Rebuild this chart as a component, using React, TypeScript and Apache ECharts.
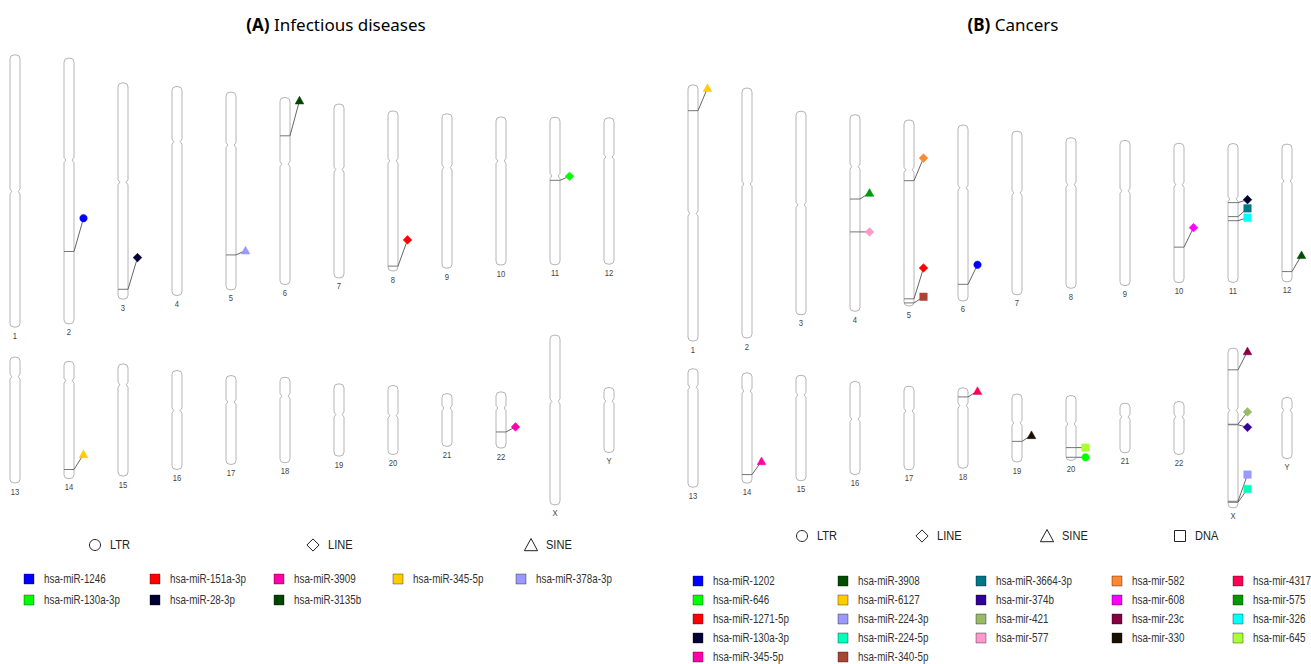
import React, { useEffect, useRef } from "react";
import * as echarts from "echarts";

// ---------------- data ----------------
const chromNames = ["1", "2", "3", "4", "5", "6", "7", "8", "9", "10", "11", "12", "13", "14", "15", "16", "17", "18", "19", "20", "21", "22", "X", "Y"];
// chromosome length (Mb) as drawn in the figure
const chromLengths = [249.25, 243.2, 198.0, 191.2, 180.9, 171.1, 159.1, 146.4, 141.2, 135.5, 135.0, 133.9, 115.2, 107.3, 102.5, 90.4, 81.2, 78.1, 66.0, 63.0, 48.1, 51.3, 155.3, 59.4];
// centromere position (Mb)
const centromeres = [125.0, 93.3, 91.0, 50.4, 48.4, 61.0, 59.9, 45.6, 49.0, 40.2, 53.7, 35.8, 17.9, 17.6, 19.0, 36.6, 24.0, 17.2, 28.0, 27.5, 13.2, 14.7, 60.6, 12.5];

// Panel A: infectious diseases
const aMarkChrom = ["2", "3", "5", "6", "8", "11", "14", "22"];
const aMarkPos = [177, 189, 149, 35, 142, 57.7, 99, 36.6];
const aMarkLabel = [146.5, 160, 145, 2.7, 118, 54, 85, 32];
const aMarkType = ["LTR", "LINE", "SINE", "SINE", "LINE", "LINE", "SINE", "LINE"];
const aMarkMir = ["hsa-miR-1246", "hsa-miR-28-3p", "hsa-miR-378a-3p", "hsa-miR-3135b", "hsa-miR-151a-3p", "hsa-miR-130a-3p", "hsa-miR-345-5p", "hsa-miR-3909"];
const aLegendMirs = ["hsa-miR-1246", "hsa-miR-130a-3p", "hsa-miR-151a-3p", "hsa-miR-28-3p", "hsa-miR-3909", "hsa-miR-3135b", "hsa-miR-345-5p", "hsa-miR-378a-3p"];
const aLegendColors = ["#0000ff", "#00ff00", "#ff0000", "#000033", "#ff00aa", "#004400", "#ffcc00", "#9999ff"];
const aLegendColumnCounts = [2, 2, 2, 1, 1];
const aShapeLegend = ["LTR", "LINE", "SINE"];

// Panel B: cancers
const bMarkChrom = ["1", "4", "4", "5", "5", "5", "6", "10", "11", "11", "11", "12", "14", "18", "19", "20", "20", "X", "X", "X", "X", "X"];
const bMarkPos = [25, 82, 114, 59, 174, 178, 155, 101, 57.4, 71, 75, 124, 99, 8.8, 46, 50.6, 60, 21, 74, 74.5, 149, 150];
const bMarkLabel = [3, 76, 114, 37, 144, 172, 136, 82, 54.5, 63, 72, 108, 86, 3, 40, 50.6, 60, 3, 62, 77, 123, 137];
const bMarkType = ["SINE", "SINE", "LINE", "LINE", "LINE", "DNA", "LTR", "LINE", "LINE", "DNA", "DNA", "SINE", "SINE", "SINE", "SINE", "DNA", "LTR", "SINE", "LINE", "LINE", "DNA", "DNA"];
const bMarkMir = ["hsa-miR-6127", "hsa-mir-575", "hsa-mir-577", "hsa-mir-582", "hsa-miR-1271-5p", "hsa-miR-340-5p", "hsa-miR-1202", "hsa-mir-608", "hsa-miR-130a-3p", "hsa-miR-3664-3p", "hsa-mir-326", "hsa-miR-3908", "hsa-miR-345-5p", "hsa-mir-4317", "hsa-mir-330", "hsa-mir-645", "hsa-miR-646", "hsa-mir-23c", "hsa-mir-421", "hsa-mir-374b", "hsa-miR-224-3p", "hsa-miR-224-5p"];
const bLegendMirs = [
  "hsa-miR-1202", "hsa-miR-646", "hsa-miR-1271-5p", "hsa-miR-130a-3p", "hsa-miR-345-5p",
  "hsa-miR-3908", "hsa-miR-6127", "hsa-miR-224-3p", "hsa-miR-224-5p", "hsa-miR-340-5p",
  "hsa-miR-3664-3p", "hsa-mir-374b", "hsa-mir-421", "hsa-mir-577",
  "hsa-mir-582", "hsa-mir-608", "hsa-mir-23c", "hsa-mir-330",
  "hsa-mir-4317", "hsa-mir-575", "hsa-mir-326", "hsa-mir-645",
];
const bLegendColors = [
  "#0000ff", "#00ff00", "#ff0000", "#000033", "#ff00aa",
  "#004d00", "#ffcc00", "#9999ff", "#00ffbb", "#aa4433",
  "#007788", "#330099", "#99bb66", "#ff99cc",
  "#ff8833", "#ff00ff", "#880044", "#1a1000",
  "#ff0055", "#009900", "#00ffff", "#aaff33",
];
const bLegendColumnCounts = [5, 5, 4, 4, 4];
const bShapeLegend = ["LTR", "LINE", "SINE", "DNA"];

const titleA = "Infectious diseases";
const titleB = "Cancers";

// ---------------- helpers ----------------
const SANS = "'Liberation Sans', Arial, sans-serif";
const NARROW_X = 0.82; // horizontal squeeze imitating a narrow face
const HALF_RANGE = 130; // Mb shown above/below centre line in each row

function symbolEl(type: string, x: number, y: number, s: number, style: any) {
  const h = s / 2;
  if (type === "LTR") return { type: "circle", shape: { cx: x, cy: y, r: h }, style };
  if (type === "LINE")
    return { type: "polygon", shape: { points: [[x, y - h - 0.6], [x + h + 0.6, y], [x, y + h + 0.6], [x - h - 0.6, y]] }, style };
  if (type === "SINE")
    return { type: "polygon", shape: { points: [[x, y - h - 0.5], [x + h + 0.6, y + h - 0.3], [x - h - 0.6, y + h - 0.3]] }, style };
  return { type: "rect", shape: { x: x - h, y: y - h, width: s, height: s }, style };
}

function chromPath(cx: number, top: number, bot: number, cen: number) {
  const w = 5, r = 4, nd = 1.8, nh = 2.6;
  const x0 = cx - w, x1 = cx + w;
  return [
    `M${x0} ${top + r}`,
    `Q${x0} ${top} ${x0 + r} ${top}`,
    `L${x1 - r} ${top}`,
    `Q${x1} ${top} ${x1} ${top + r}`,
    `L${x1} ${cen - nh}`,
    `L${x1 - nd} ${cen}`,
    `L${x1} ${cen + nh}`,
    `L${x1} ${bot - r}`,
    `Q${x1} ${bot} ${x1 - r} ${bot}`,
    `L${x0 + r} ${bot}`,
    `Q${x0} ${bot} ${x0} ${bot - r}`,
    `L${x0} ${cen + nh}`,
    `L${x0 + nd} ${cen}`,
    `L${x0} ${cen - nh}`,
    "Z",
  ].join(" ");
}

const PANELS = [
  {
    left: 15, scale: 1.092, centers: [191, 420],
    chrom: aMarkChrom, pos: aMarkPos, lab: aMarkLabel, type: aMarkType, mir: aMarkMir,
    legMirs: aLegendMirs, legColors: aLegendColors, legCounts: aLegendColumnCounts,
    legCols: [29, 155, 279, 398, 521], legRows: [579, 600], legTextDx: 15,
    shapes: aShapeLegend, shapeX: [95, 313, 531], shapeY: 545,
    title: titleA, tag: "(A)", titleX: 336,
  },
  {
    left: 693, scale: 1.027, centers: [213, 428],
    chrom: bMarkChrom, pos: bMarkPos, lab: bMarkLabel, type: bMarkType, mir: bMarkMir,
    legMirs: bLegendMirs, legColors: bLegendColors, legCounts: bLegendColumnCounts,
    legCols: [698, 843, 981, 1117, 1238], legRows: [581, 600, 619, 638, 657], legTextDx: 15,
    shapes: bShapeLegend, shapeX: [802, 922, 1047, 1180], shapeY: 536,
    title: titleB, tag: "(B)", titleX: 1013,
  },
];

function narrowText(x: number, y: number, text: string, fontSize: number, fill: string, align = "left") {
  return {
    type: "text", x, y, scaleX: NARROW_X,
    style: { text, x: 0, y: 0, align, verticalAlign: "middle", fontSize, fontFamily: SANS, fill },
  };
}

function buildOption() {
  const grids: any[] = [];
  const xAxes: any[] = [];
  const yAxes: any[] = [];
  const series: any[] = [];
  const graphics: any[] = [];

  PANELS.forEach((p, pi) => {
    const colorOf = (m: string) => p.legColors[p.legMirs.indexOf(m)];
    p.centers.forEach((c, r) => {
      const g = pi * 2 + r;
      grids.push({
        left: p.left, width: 594,
        top: c - HALF_RANGE * p.scale, height: 2 * HALF_RANGE * p.scale,
        outerBoundsMode: "none", containLabel: false,
      });
      xAxes.push({ type: "value", gridIndex: g, min: 0, max: 11, show: false });
      yAxes.push({ type: "value", gridIndex: g, min: -HALF_RANGE, max: HALF_RANGE, inverse: true, show: false });

      const idxs = chromNames.map((_, i) => i).filter((i) => Math.floor(i / 12) === r);
      series.push({
        type: "custom", xAxisIndex: g, yAxisIndex: g, z: 2, silent: true,
        data: idxs.map((i) => [i - r * 12, chromLengths[i], centromeres[i]]),
        renderItem: (params: any, api: any) => {
          const xi = api.value(0), len = api.value(1), cen = api.value(2);
          const [cx, top] = api.coord([xi, -len / 2]);
          const bot = api.coord([xi, len / 2])[1];
          const yc = api.coord([xi, -len / 2 + cen])[1];
          return {
            type: "group",
            children: [
              { type: "path", shape: { pathData: chromPath(cx, top, bot, yc) }, style: { fill: "#ffffff", stroke: "#b4b4b4", lineWidth: 1 } },
              {
                type: "text", x: cx, y: bot + 9, scaleX: 0.9,
                style: {
                  text: chromNames[idxs[params.dataIndex]], x: 0, y: 0, align: "center", verticalAlign: "middle",
                  fontSize: 8.5, fontFamily: SANS, fill: "#444",
                },
              },
            ],
          };
        },
      });

      const mIdx = p.chrom.map((_, k) => k).filter((k) => Math.floor(chromNames.indexOf(p.chrom[k]) / 12) === r);
      series.push({
        type: "custom", xAxisIndex: g, yAxisIndex: g, z: 3, silent: true,
        data: mIdx.map((k) => {
          const ci = chromNames.indexOf(p.chrom[k]);
          return [ci - r * 12, chromLengths[ci], p.pos[k], p.lab[k]];
        }),
        renderItem: (params: any, api: any) => {
          const k = mIdx[params.dataIndex];
          const xi = api.value(0), len = api.value(1), pos = api.value(2), lab = api.value(3);
          const [cx, yp] = api.coord([xi, -len / 2 + pos]);
          const yl = api.coord([xi, -len / 2 + lab])[1];
          const mx = cx + 14.5;
          const col = colorOf(p.mir[k]);
          return {
            type: "group",
            children: [
              { type: "line", shape: { x1: cx - 5, y1: yp, x2: cx + 5, y2: yp }, style: { stroke: "#777", lineWidth: 1 } },
              { type: "line", shape: { x1: cx + 5, y1: yp, x2: mx, y2: yl }, style: { stroke: "#555", lineWidth: 0.9 } },
              symbolEl(p.type[k], mx, yl, 7.5, { fill: col, stroke: col, lineWidth: 0.5 }),
            ],
          };
        },
      });
    });

    // title
    graphics.push({
      type: "text", x: p.titleX, y: 24,
      style: {
        text: `{b|${p.tag}} ${p.title}`, align: "center", verticalAlign: "middle",
        fontSize: 17, fontFamily: "'Noto Sans', 'Open Sans', sans-serif", fill: "#000",
        rich: { b: { fontWeight: "bold", fontSize: 17, fontFamily: "'Noto Sans', 'Open Sans', sans-serif", fill: "#000" } },
      },
    });

    // shape legend
    p.shapes.forEach((t, i) => {
      const x = p.shapeX[i], y = p.shapeY;
      graphics.push({ ...symbolEl(t, x, y, t === "SINE" ? 12 : 11, { fill: "none", stroke: "#222", lineWidth: 1 }) });
      graphics.push(narrowText(x + 15, y, t, 13.5, "#222"));
    });

    // colour legend (column-major)
    let n = 0;
    p.legCounts.forEach((cnt, ci) => {
      for (let ri = 0; ri < cnt; ri++) {
        const m = p.legMirs[n], col = p.legColors[n];
        n++;
        const x = p.legCols[ci], y = p.legRows[ri];
        graphics.push({ type: "rect", shape: { x: x - 5, y: y - 5, width: 10, height: 10 }, style: { fill: col, stroke: "rgba(0,0,0,0.45)", lineWidth: 0.8 } });
        graphics.push(narrowText(x + p.legTextDx, y, m, 12, "#333"));
      }
    });
  });

  return {
    animation: false,
    backgroundColor: "#ffffff",
    grid: grids,
    xAxis: xAxes,
    yAxis: yAxes,
    series,
    graphic: graphics,
  };
}

export default function App() {
  const ref = useRef<HTMLDivElement>(null);
  useEffect(() => {
    document.body.style.margin = "0";
    if (!ref.current) return;
    const chart = echarts.init(ref.current, null, { renderer: "svg" });
    chart.setOption(buildOption() as any);
    return () => chart.dispose();
  }, []);
  return <div ref={ref} style={{ width: 1311, height: 664 }} />;
}
